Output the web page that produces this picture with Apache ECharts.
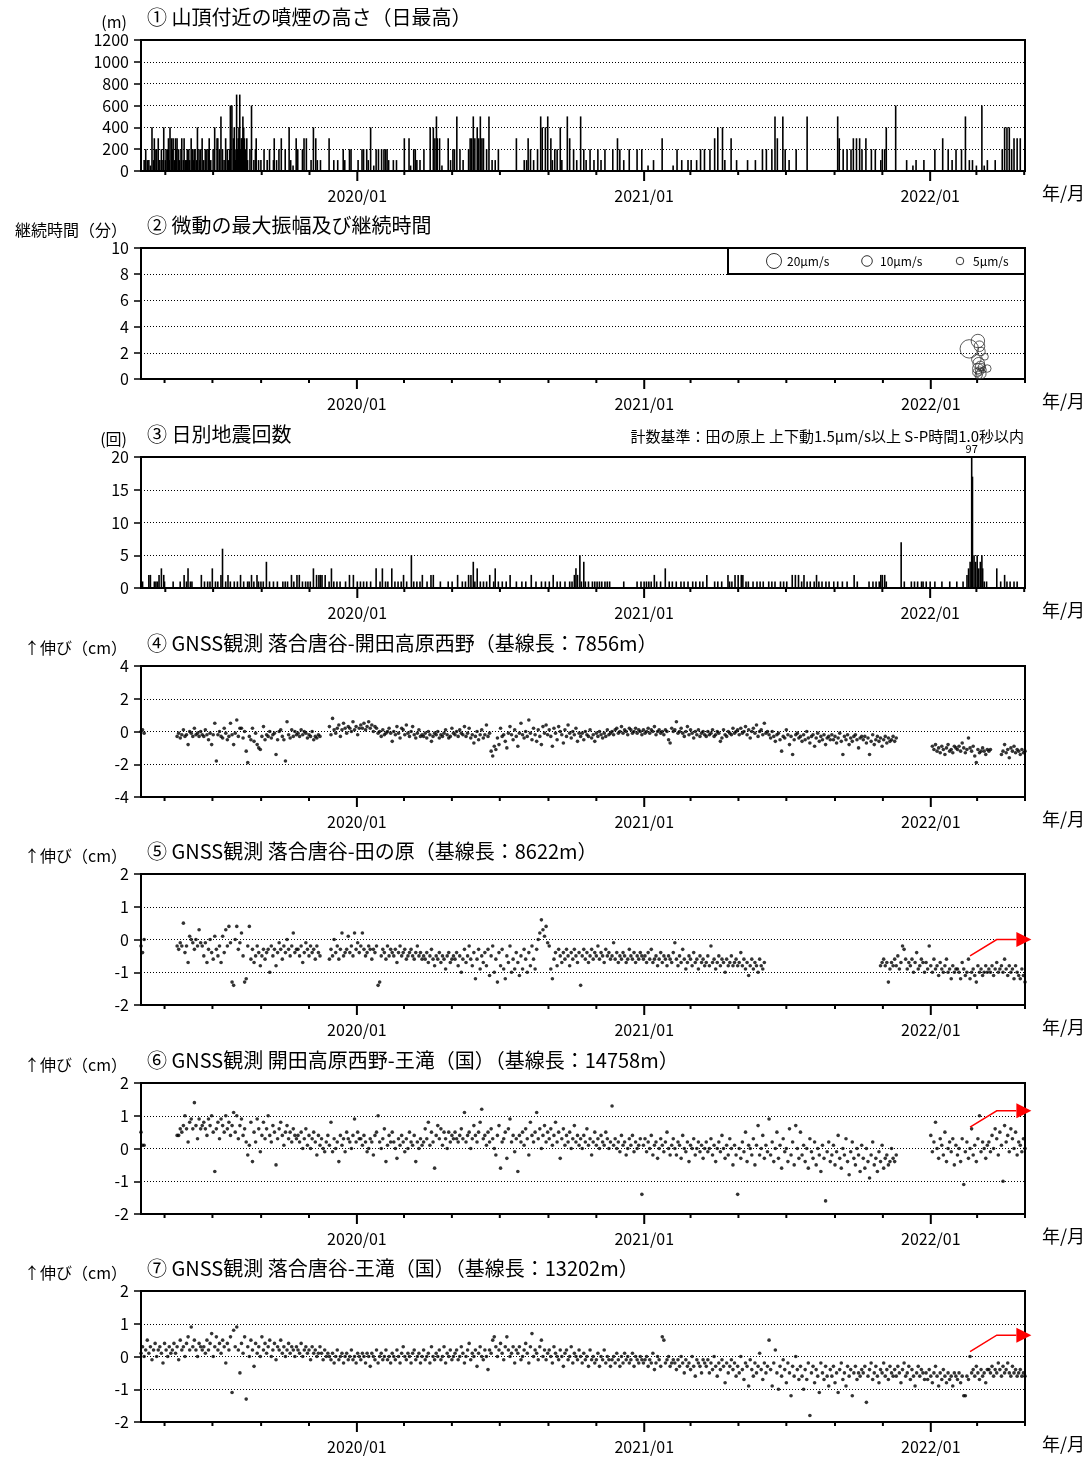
<!DOCTYPE html>
<html>
<head>
<meta charset="utf-8">
<script src="https://cdn.jsdelivr.net/npm/echarts@6/dist/echarts.min.js"></script>
<style>
  html, body { margin: 0; padding: 0; background: #fff; }
  #chart { width: 1089px; height: 1461px; }
</style>
</head>
<body>
<div id="chart"></div>
<script>
// 御嶽山 火山活動経過図（2019/04 〜 2022/04）
const FONT = "'Noto Sans CJK JP', 'Noto Sans', sans-serif";
const DAY = 86400000;
const T0 = Date.UTC(2019, 3, 1);   // 横軸の左端
const T1 = Date.UTC(2022, 4, 1);   // 横軸の右端
const toTime = d => T0 + d * DAY;  // d: 2019/04/01 からの日数

// 横軸の目盛（2か月ごと、1月にラベル）
const tickDates = ['2019-05-01', '2019-07-01', '2019-09-01', '2019-11-01', '2020-01-01', '2020-03-01',
  '2020-05-01', '2020-07-01', '2020-09-01', '2020-11-01', '2021-01-01', '2021-03-01', '2021-05-01',
  '2021-07-01', '2021-09-01', '2021-11-01', '2022-01-01', '2022-03-01', '2022-05-01'];

// ① 噴煙の高さ（日最高） [日数, m]
const plume = [
  [3, 100], [5, 200], [7, 100], [9, 100], [11, 50], [13, 400], [15, 100], [16, 300], [18, 200], [19, 200],
  [21, 300], [23, 100], [25, 200], [27, 100], [28, 400], [30, 100], [31, 200], [33, 200], [34, 300], [35, 100],
  [36, 400], [38, 300], [39, 200], [40, 300], [42, 100], [43, 300], [44, 200], [45, 300], [47, 200], [48, 100],
  [50, 200], [51, 300], [53, 100], [54, 300], [56, 100], [57, 100], [58, 200], [60, 200], [61, 100], [63, 300],
  [65, 200], [66, 100], [67, 200], [68, 200], [70, 100], [71, 400], [73, 200], [74, 100], [75, 200], [77, 300],
  [79, 100], [81, 200], [83, 200], [85, 200], [86, 300], [88, 100], [91, 200], [93, 400], [96, 300], [97, 300],
  [99, 200], [101, 500], [103, 200], [105, 100], [107, 300], [109, 200], [111, 100], [112, 200], [113, 600],
  [115, 600], [117, 300], [118, 400], [119, 200], [120, 100], [121, 700], [122, 200], [123, 300], [124, 400],
  [125, 700], [126, 200], [127, 300], [128, 300], [129, 500], [130, 400], [131, 300], [132, 200], [134, 300],
  [135, 100], [138, 200], [140, 600], [143, 100], [145, 200], [146, 300], [149, 100], [152, 100], [156, 200],
  [160, 100], [163, 200], [168, 100], [169, 300], [172, 100], [175, 200], [178, 300], [183, 200], [188, 400],
  [190, 100], [193, 50], [197, 300], [199, 200], [205, 200], [207, 300], [210, 300], [216, 100], [219, 400],
  [222, 300], [224, 100], [228, 100], [239, 300], [245, 100], [250, 100], [257, 200], [259, 100], [265, 200],
  [267, 200], [276, 100], [281, 200], [283, 200], [287, 200], [289, 100], [292, 400], [296, 50], [299, 200],
  [302, 200], [306, 200], [309, 200], [311, 200], [313, 200], [315, 100], [321, 100], [325, 100], [335, 300],
  [341, 300], [343, 50], [347, 200], [349, 200], [351, 100], [355, 100], [360, 200], [368, 400], [372, 400],
  [374, 300], [376, 500], [377, 300], [380, 300], [383, 50], [391, 300], [394, 100], [397, 200], [399, 200],
  [402, 500], [406, 200], [410, 100], [417, 200], [419, 300], [421, 300], [423, 500], [425, 300], [428, 400],
  [430, 300], [432, 500], [434, 300], [436, 300], [440, 200], [443, 500], [447, 100], [451, 100], [455, 200],
  [478, 300], [488, 100], [491, 100], [493, 300], [496, 200], [500, 100], [505, 200], [509, 500], [511, 400],
  [515, 400], [518, 500], [522, 300], [524, 100], [527, 200], [530, 200], [534, 400], [536, 100], [543, 500],
  [546, 300], [551, 200], [555, 100], [560, 500], [564, 200], [567, 100], [572, 200], [577, 100], [582, 200],
  [586, 100], [591, 200], [601, 200], [607, 300], [610, 200], [615, 100], [622, 200], [632, 200], [638, 200],
  [646, 50], [653, 100], [664, 300], [678, 50], [683, 200], [689, 100], [697, 100], [701, 100], [708, 100],
  [713, 200], [718, 200], [725, 200], [731, 300], [735, 400], [741, 400], [744, 100], [752, 300], [759, 100],
  [773, 100], [783, 100], [792, 200], [797, 200], [804, 200], [808, 500], [811, 300], [818, 500], [821, 200],
  [826, 100], [835, 200], [849, 500], [888, 500], [890, 300], [895, 200], [900, 200], [905, 200], [908, 300],
  [912, 300], [916, 300], [919, 200], [924, 300], [931, 200], [936, 200], [943, 100], [945, 200], [948, 200],
  [950, 400], [962, 600], [976, 100], [984, 50], [988, 100], [998, 100], [1012, 200], [1022, 300], [1029, 200],
  [1034, 100], [1039, 200], [1046, 200], [1051, 500], [1056, 100], [1060, 100], [1065, 50], [1072, 600],
  [1075, 50], [1079, 100], [1089, 100], [1098, 200], [1101, 400], [1104, 400], [1107, 400], [1110, 200],
  [1113, 300], [1117, 300], [1121, 300]
];

// ② 微動 [日数, 継続時間(分), 最大振幅(μm/s)]
const tremor = [
  [1055, 2.3, 30], [1066, 2.9, 16], [1068, 2.5, 10], [1070, 2.1, 6], [1075, 1.7, 4], [1064, 1.5, 8],
  [1067, 1.2, 12], [1069, 1.0, 8], [1066, 0.8, 10], [1068, 0.6, 6], [1071, 0.9, 5], [1065, 0.5, 7],
  [1070, 0.4, 9], [1073, 0.7, 3], [1067, 0.3, 5], [1078, 0.8, 5]
];
const legendAmps = [20, 10, 5];
const ampScale = 1.68; // 半径 = ampScale * sqrt(振幅)

// ③ 日別地震回数 [日数, 回]
const quakes = [
  [1, 1], [9, 2], [11, 2], [16, 1], [18, 1], [20, 1], [22, 2], [25, 3], [28, 2], [29, 1], [40, 1], [49, 1],
  [54, 2], [57, 1], [59, 3], [62, 1], [64, 1], [76, 2], [80, 1], [84, 1], [87, 1], [90, 3], [94, 1], [97, 1],
  [101, 2], [103, 6], [107, 1], [110, 2], [113, 1], [118, 1], [122, 1], [126, 2], [130, 1], [135, 1], [137, 1],
  [140, 2], [143, 1], [147, 2], [149, 1], [152, 1], [155, 1], [159, 4], [163, 1], [168, 1], [173, 1], [180, 1],
  [183, 1], [186, 1], [191, 2], [194, 1], [198, 2], [201, 2], [205, 1], [209, 1], [212, 1], [215, 1], [219, 3],
  [223, 2], [226, 2], [228, 2], [230, 2], [234, 2], [239, 1], [242, 3], [245, 1], [249, 1], [253, 1], [260, 1],
  [265, 2], [270, 2], [275, 1], [279, 1], [283, 1], [287, 1], [292, 1], [299, 3], [304, 1], [307, 3], [311, 1],
  [314, 1], [319, 3], [323, 1], [327, 1], [331, 1], [334, 2], [338, 1], [344, 5], [347, 1], [351, 1], [355, 1],
  [358, 2], [364, 1], [369, 2], [372, 2], [381, 1], [391, 1], [396, 1], [403, 2], [409, 1], [413, 1], [417, 2],
  [420, 2], [423, 4], [425, 1], [428, 3], [432, 1], [436, 1], [440, 1], [444, 2], [449, 1], [451, 3], [455, 1],
  [460, 1], [465, 1], [470, 2], [478, 1], [485, 1], [490, 1], [497, 2], [503, 1], [510, 1], [515, 1], [520, 1],
  [525, 2], [530, 1], [534, 1], [540, 1], [546, 1], [549, 1], [552, 2], [554, 3], [556, 2], [559, 5], [561, 1],
  [564, 4], [566, 1], [570, 1], [575, 1], [578, 1], [581, 1], [584, 1], [587, 1], [591, 1], [594, 1], [597, 1],
  [615, 1], [632, 1], [637, 1], [641, 1], [644, 1], [647, 1], [650, 1], [654, 2], [657, 1], [662, 1], [668, 3],
  [673, 1], [677, 1], [682, 1], [688, 1], [692, 1], [697, 1], [703, 1], [707, 1], [712, 1], [716, 1], [721, 2],
  [731, 1], [735, 1], [740, 1], [748, 2], [750, 1], [753, 1], [757, 2], [761, 2], [765, 2], [767, 2], [771, 1],
  [774, 1], [780, 1], [785, 1], [789, 1], [793, 1], [800, 1], [804, 1], [808, 1], [815, 1], [819, 1], [823, 1],
  [830, 2], [834, 2], [838, 2], [842, 1], [845, 2], [849, 1], [853, 1], [858, 1], [861, 2], [864, 1], [868, 1],
  [873, 1], [877, 1], [883, 1], [888, 1], [894, 1], [900, 1], [909, 2], [913, 1], [928, 1], [933, 1], [937, 1],
  [941, 1], [943, 2], [945, 2], [948, 2], [950, 1], [969, 7], [973, 1], [982, 1], [986, 1], [990, 1], [995, 1],
  [997, 1], [1001, 1], [1006, 1], [1012, 1], [1021, 1], [1031, 1], [1040, 1], [1048, 1], [1053, 2], [1055, 3],
  [1057, 4], [1059, 97], [1060, 17], [1062, 5], [1064, 4], [1066, 5], [1068, 3], [1070, 4], [1072, 5], [1073, 3],
  [1075, 1], [1078, 1], [1091, 3], [1096, 1], [1101, 2], [1104, 1], [1108, 1], [1113, 1], [1117, 1]
];

// ④〜⑦ GNSS 基線長変化（cm）: [開始日数, 2日ごとの値]
const gnssStep = 2;
const gnss4 = [
  [0, [0.0, 0.1, -0.1]],
  [46, [-0.3, -0.1, -0.4, -0.2, 0.1, -0.3, -0.2, -0.8, 0.0, -0.1, -0.3, 0.2, -0.2, -0.1, -0.3, 0.0, -0.2,
    -0.3, 0.1, -0.2, -0.5, -0.1, -0.8, -0.2, 0.5, -1.8, -0.2, 0.0, -0.3, -0.4, 0.2, -0.1, -0.5, -0.3, 0.5, -0.2, -0.8,
    -0.1, 0.7, -0.3, 0.2, 0.2, -0.4, 0.0, -1.2, -1.9, -0.3, -0.5, 0.2, -0.6, -0.1, -0.8, -1.0, -1.1, -0.3, 0.3, -0.5,
    -0.2, -0.3, 0.0, -0.4, -0.2, -0.1, -1.4, -0.5, 0.0, 0.1, -0.3, -0.5, -1.8, 0.6, -0.2, -0.4, 0.1, -0.3, 0.0, -0.2,
    -0.1, -0.3, 0.1, -0.2, 0.0, -0.1, -0.4, -0.2, -0.3, 0.0, -0.5, -0.3, -0.4, -0.2, -0.3]],
  [240, [0.3, -0.2, 0.8, 0.1, -0.1, 0.2, 0.4, -0.3, 0.1, 0.5, 0.2, -0.1, 0.3, 0.2, 0.0, 0.6, 0.1, 0.3, -0.2, 0.2,
    0.4, 0.2, 0.5, 0.1, 0.3, 0.6, 0.2, 0.4, 0.0, 0.3, 0.2, -0.1, 0.0, -0.3, 0.1, -0.2, -0.1, 0.0, 0.2, -0.1,
    -0.6, 0.0, -0.2, 0.3, -0.1, -0.4, 0.2, 0.1, -0.2, 0.4, -0.1, -0.3, 0.0, 0.3, -0.2, -0.4, -0.1, 0.1, -0.3, -0.2,
    -0.3, -0.1, -0.4, 0.0, -0.2, -0.6, -0.3, -0.1, -0.2, 0.0, -0.4, -0.2, -0.3, -0.1, 0.1, -0.2, -0.4, -0.3, 0.2, -0.1,
    -0.2, 0.0, -0.3, 0.1, -0.1, -0.2, 0.3, -0.3, -0.1, 0.2, -0.4, -0.2, -0.7, -0.3, 0.0, -0.5, -0.2, 0.1, -0.4, -0.2,
    0.4, -0.3, -0.1, -1.2, -1.5, -0.9, -1.1, -0.4, -0.8, 0.2, -0.3, -0.2, -0.6, -1.0, -0.1, 0.3, -0.2, -0.5, 0.1, -0.3,
    -0.9, -0.1, 0.5, -0.2, -0.4, 0.0, -0.3, 0.7, -0.1, -0.5, 0.2, -0.2, -0.6, 0.1, -0.3, -0.8, 0.3, -0.1, 0.4, -0.2,
    0.1, -0.3, -0.9, 0.2, -0.1, -0.5, 0.3, 0.0, -0.2, -0.7, 0.1, -0.3, 0.4, -0.1, -0.4, 0.0, -0.2, 0.2, -0.6, -0.1,
    -0.3, -0.1, -0.5, 0.0, -0.2, -0.3, 0.1, -0.4, -0.2, -0.6, -0.1, -0.3, 0.0, -0.2, -0.4, -0.1, -0.3, 0.1, -0.2, -0.1,
    0.0, -0.2, 0.1, 0.2, -0.1, 0.0, 0.3, -0.1, 0.1, 0.0, -0.2, 0.2, 0.1, -0.1, 0.0, 0.2, -0.1, 0.1, 0.0, -0.2,
    0.1, -0.1, 0.0, 0.2, -0.1, 0.1, 0.0, 0.3, -0.2, 0.0, 0.1, -0.1, 0.0, -0.2, 0.1, 0.0, -0.5, -0.7, 0.2, 0.0,
    0.1, 0.6, -0.1, 0.0, 0.2, -0.1, -0.3, 0.0, 0.3, -0.2, 0.1, -0.1, -0.4, 0.0, -0.2, 0.1, -0.3, -0.1, 0.0, -0.2,
    -0.3, 0.0, -0.2, -0.1, 0.1, -0.3, -0.2, 0.0, -0.1, -0.6, -0.4, 0.1, -0.2, -0.3, 0.0, -0.1, -0.2, 0.2, -0.1, 0.0,
    0.1, -0.2, 0.2, -0.1, 0.0, 0.3, -0.2, 0.1, -0.4, 0.0, 0.2, -0.1, 0.4, -0.3, 0.0, 0.1, -0.2, 0.5, -0.1, 0.0,
    -0.2, -0.4, 0.0, -0.3, -0.6, -0.2, -0.1, -0.5, -1.2, -0.3, -0.4, 0.1, -0.2, -0.8, -0.3, -1.4, -0.5, -0.2, -0.1, -0.4,
    -0.3, -0.6, -0.2, -0.5, 0.0, -0.4, -0.7, -0.3, -0.2, -0.9, -0.4, -0.1, -0.6, -0.3, -0.5, -0.2, -0.8, -0.4, -0.3, -0.5,
    -0.2, -0.5, -0.3, -0.7, -0.4, -0.1, -0.6, -1.4, -0.3, -0.5, -0.2, -0.8, -0.4, -0.6, -0.3, -0.2, -0.5, -1.0, -0.4, -0.3,
    -0.5, -0.3, -0.7, -0.4, -1.4, -0.6, -0.2, -0.8, -0.5, -0.3, -0.6, -0.4, -0.9, -0.5, -0.3, -0.7, -0.4, -0.6, -0.5, -0.3,
    -0.6, -0.4]],
  [1008, [-0.9, -1.1, -0.8, -1.2, -1.0, -1.3, -0.9, -1.1, -1.4, -1.0, -0.8, -1.2, -1.1, -1.3, -0.9, -1.0,
    -1.1, -0.9, -1.2, -0.7, -1.0, -1.3, -1.1, -0.4, -1.0, -1.2, -0.9, -1.5, -1.9, -1.1, -1.3, -1.2, -1.0, -1.2, -1.4, -1.1,
    -1.2, -1.1]],
  [1096, [-1.4, -1.2, -0.8, -1.3, -1.1, -1.6, -1.0, -1.2, -0.9, -1.3, -1.1, -1.2, -1.4, -1.1, -1.3, -1.2]]
];
const gnss5 = [
  [0, [-0.2, -0.4, 0.0]],
  [46, [-0.2, -0.3, -0.1, -0.2, 0.5, -0.4, -0.2, -0.7, 0.1, 0.0, -0.1, -0.3, 0.0, -0.2, 0.3, -0.1, -0.2,
    -0.5, -0.1, -0.7, -0.3, 0.0, -0.4, -0.6, 0.1, -0.3, -0.5, -0.2, -0.7, 0.1, -0.4, 0.3, -0.2, 0.4, -0.1, -1.3, -1.4,
    0.0, 0.4, -0.3, -0.1, 0.2, -0.5, -1.3, -1.2, -0.2, 0.4, -0.6, -0.3, -0.7, -0.5, -0.2, -0.4, -0.8, -0.5, -0.3, -0.6,
    -0.4, -0.3, -1.0, -0.2, -0.5, -0.3, -0.8, -0.4, -0.1, -0.3, -0.6, -0.2, -0.4, 0.0, -0.3, -0.5, -0.2, 0.2, -0.4, -0.3,
    -0.3, -0.5, -0.2, -0.7, -0.4, -0.1, -0.3, -0.5, -0.2, -0.4, -0.3, -0.6, -0.2, -0.4, -0.5]],
  [240, [-0.6, -0.3, -0.5, 0.0, -0.4, -0.2, -0.6, -0.3, 0.2, -0.5, -0.4, -0.3, 0.1, -0.4, -0.2, -0.5, 0.2, -0.3, -0.1, -0.4,
    -0.2, 0.2, -0.3, -0.5, -0.4, -0.2, -0.3, -0.6, -0.3, -0.4, -0.2, -1.4, -1.3, -0.5, -0.3, -0.4, -0.6, -0.2, -0.5, -0.3,
    -0.4, -0.5, -0.3, -0.7, -0.4, -0.2, -0.5, -0.4, -0.3, -0.6, -0.5, -0.4, -0.3, -0.5, -0.6, -0.4, -0.2, -0.5, -0.4, -0.6,
    -0.5, -0.6, -0.4, -0.7, -0.5, -0.3, -0.6, -0.8, -0.5, -0.6, -0.4, -0.7, -0.5, -0.6, -0.9, -0.5, -0.4, -0.7, -0.6, -0.5,
    -0.6, -0.4, -0.8, -0.5, -1.0, -0.6, -0.3, -0.7, -0.5, -0.2, -0.6, -0.8, -0.4, -1.2, -0.6, -0.3, -0.9, -0.5, -0.7, -0.4,
    -0.8, -0.3, -1.1, -0.5, -0.2, -1.0, -0.6, -1.3, -0.4, -0.8, -0.3, -0.9, -1.2, -0.5, -0.7, -0.2, -1.0, -0.6, -0.9, -0.4,
    -0.7, -1.1, -0.5, -0.9, -0.3, -0.6, -1.0, -0.4, -0.8, -0.2, -0.6, -0.9, -0.3, 0.0, 0.2, 0.6, 0.3, 0.1, 0.4, -0.1,
    -0.2, -0.9, -1.2, -0.6, -0.4, -0.8, -0.3, -0.5, -0.7, -0.4, -0.6, -0.3, -0.5, -0.8, -0.4, -0.6, -0.3, -0.5, -0.7, -0.4,
    -1.4, -0.5, -0.3, -0.6, -0.4, -0.7, -0.5, -0.3, -0.6, -0.4, -0.5, -0.2, -0.6, -0.4, -0.5, -0.7, -0.3, -0.5, -0.4, -0.6,
    -0.5, -0.1, -0.6, -0.4, -0.7, -0.5, -0.6, -0.4, -0.5, -0.7, -0.6, -0.3, -0.5, -0.6, -0.4, -0.7, -0.5, -0.6, -0.4, -0.5,
    -0.6, -0.5, -0.7, -0.4, -0.6, -0.3, -0.7, -0.6, -0.5, -0.8, -0.6, -0.4, -0.7, -0.5, -0.6, -0.8, -0.5, -0.6, -0.7, -0.4,
    -0.1, -0.6, -0.8, -0.5, -0.7, -0.3, -0.6, -0.9, -0.7, -0.5, -0.6, -0.8, -0.4, -0.7, -0.6, -0.9, -0.5, -0.7, -0.6, -0.8,
    -0.7, -0.5, -0.8, -0.2, -0.7, -0.6, -0.9, -0.7, -0.5, -0.8, -0.6, -0.7, -1.0, -0.6, -0.8, -0.7, -0.5, -0.8, -0.7, -0.6,
    -0.8, -0.7, -0.4, -0.8, -0.6, -0.9, -0.7, -1.1, -0.8, -0.6, -0.9, -0.7, -0.8, -1.0, -0.6, -0.8, -0.9, -0.7]],
  [942, [-0.8, -0.7, -0.6, -0.8, -0.7, -1.3, -0.9, -0.7, -0.8,
    -0.6, -0.8, -0.5, -0.9, -0.7, -0.2, -0.3, -0.6, -0.9, -0.7, -0.8, -0.6, -1.0, -0.7, -0.4, -0.9, -0.8, -0.6, -0.7, -1.0,
    -0.7, -0.9, -0.2, -0.8, -1.0, -0.6, -0.9, -0.8, -1.1, -0.7, -0.9, -1.0, -0.8, -0.6, -1.0, -0.9, -1.2, -0.8, -1.0, -0.9,
    -0.9, -1.0, -1.2, -0.7, -0.9, -1.1, -1.0, -0.6, -1.2, -1.0, -0.9, -1.1, -1.3, -0.8, -1.0, -0.9, -1.1, -1.0, -0.8, -1.0,
    -0.9, -1.0, -0.8, -1.1, -0.9, -0.7, -1.0, -0.9, -0.8, -1.0, -0.6, -0.9, -1.1, -0.8, -1.0, -0.9, -1.2, -0.8, -1.0, -1.1,
    -1.2, -0.9, -1.1, -1.3]]
];
const gnss6 = [
  [0, [0.5, 0.1, 0.1]],
  [46, [0.4, 0.4, 0.6, 0.5, 0.7, 1.0, 0.6, 0.2, 0.8, 0.9, 0.6, 1.4, 0.7, 0.3, 0.9, 0.6, 0.7,
    0.8, 0.6, 0.4, 0.9, 0.7, 1.0, 0.5, -0.7, 0.6, 0.8, 0.3, 0.9, 0.7, 0.5, 1.0, 0.6, 0.8, 0.4, 0.7, 1.1,
    0.5, 1.0, 0.3, 0.7, 0.9, 0.4, 0.6, 0.2, -0.2, 0.1, 0.8, -0.4, 0.5, 0.2, 0.9, 0.6, -0.1, 0.4, 0.8, 0.3,
    0.6, 1.0, 0.4, 0.2, 0.7, 0.5, -0.5, 0.3, 0.6, 0.8, 0.4, 0.1, 0.5, 0.7, 0.3, 0.5, 0.2, 0.6, 0.4, 0.3,
    0.4, 0.2, 0.5, 0.0, 0.3, 0.6, 0.1, 0.4, 0.0, 0.3, 0.5, 0.2, -0.2, 0.4, 0.1, 0.3, 0.0, -0.1, 0.2, 0.4,
    0.1, 0.8, -0.1, 0.3, 0.0, 0.2, -0.4, 0.4, 0.1, 0.3, -0.1, 0.5, 0.3, 0.2, 0.0, 0.4, 0.9, 0.2, 0.5, 0.3,
    0.3, 0.1, 0.4, 0.2, -0.1, 0.0, 0.3, 0.2, -0.2, 0.4, 0.5, 1.0, 0.2, 0.0, 0.3, 0.6, -0.4, 0.1, 0.4, 0.2,
    0.5, 0.2, 0.0, -0.3, 0.3, 0.1, 0.4, 0.2, -0.1, 0.3, 0.0, 0.5, 0.2, 0.1, 0.4, -0.4, 0.2, 0.0, 0.3, 0.1,
    0.2, 0.6, 0.3, 0.8, 0.1, 0.5, 0.2, -0.6, 0.4, 0.7, 0.3, 0.6, 0.1, 0.5, 0.3, 0.0, 0.5, 0.2, 0.4, 0.3,
    0.5, 0.3, 0.2, 0.4, 0.6, 0.3, 1.1, 0.2, 0.4, 0.5, 0.0, 0.3, 0.7, 0.4, 0.2, 0.5, 0.8, 1.2, 0.3, 0.4,
    0.1, 0.5, 0.2, 0.6, 0.3, 0.0, -0.2, 0.4, 0.7, -0.6, 0.2, 0.3, 0.5, -0.3, 0.6, 0.9, 0.2, 0.4, -0.1, 0.3,
    -0.7, 0.4, 0.2, 0.5, 0.1, 0.6, 0.3, -0.2, 0.8, 0.4, 0.2, 0.5, 1.1, 0.3, 0.6, 0.0, 0.4, 0.7, 0.2, 0.5,
    0.3, 0.6, 0.1, 0.4, 0.8, 0.2, 0.5, -0.3, 0.3, 0.6, 0.1, 0.4, 0.2, 0.5, 0.0, 0.3, 0.7, 0.2, 0.4, 0.1,
    0.3, 0.0, 0.4, 0.2, 0.6, 0.1, 0.3, -0.2, 0.2, 0.5, 0.1, 0.3, 0.0, 0.4, 0.2, 0.1, 0.5, 0.3, 0.0, 0.2,
    1.3, 0.1, 0.3, 0.0, 0.2, -0.1, 0.4, 0.1, 0.2, -0.2, 0.0, 0.3, 0.1, 0.4, -0.1, 0.2, 0.0, 0.1, 0.3, -1.4,
    0.1, 0.3, -0.1, 0.2, 0.0, 0.4, -0.2, 0.1, 0.2, -0.3, 0.0, 0.3, 0.1, -0.1, 0.2, 0.5, 0.0, -0.2, 0.1, 0.3,
    0.0, -0.2, 0.2, 0.1, -0.3, 0.4, 0.0, -0.1, 0.2, -0.4, 0.1, 0.0, 0.3, -0.2, 0.0, 0.2, -0.1, 0.1, -0.3, 0.0,
    0.2, -0.1, 0.0, 0.3, -0.2, 0.1, -0.4, 0.0, 0.2, -0.1, 0.4, 0.0, -0.3, 0.1, -0.2, 0.3, 0.0, -0.5, 0.1, -0.2,
    -1.4, 0.0, -0.3, 0.2, -0.1, 0.5, -0.4, 0.1, 0.0, -0.2, 0.3, -0.5, 0.1, 0.7, -0.2, 0.0, 0.4, -0.3, 0.1, -0.1,
    0.9, -0.2, 0.2, -0.4, 0.0, 0.5, -0.3, 0.1, -0.6, 0.3, -0.1, 0.0, -0.4, 0.6, -0.2, 0.2, -0.5, 0.7, 0.0, -0.3,
    0.5, -0.2, 0.1, -0.4, 0.0, -0.6, 0.3, -0.1, -0.3, 0.2, -0.5, 0.0, -0.2, -0.7, 0.1, -0.3, -1.6, -0.1, 0.2, -0.4,
    -0.2, 0.1, -0.5, -0.1, 0.4, -0.3, -0.6, 0.0, -0.2, 0.3, -0.4, -0.8, -0.1, 0.2, -0.3, -0.5, 0.0, -0.2, -0.7, 0.1,
    -0.3, -0.6, 0.0, -0.4, -0.9, -0.2, 0.2, -0.5, -0.3, -0.7, -0.1, -0.4, 0.1, -0.6, -0.3, -0.2, -0.5, -0.4, 0.0, -0.3,
    -0.4, -0.2]],
  [1006, [0.4, -0.1, 0.2, 0.8, 0.0, -0.3, 0.3, 0.1, -0.2, 0.5, -0.4, 0.0, 0.2, -0.1, 0.3, -0.5, 0.1,
    -0.2, 0.0, -0.4, 0.3, -1.1, -0.1, 0.2, -0.3, 0.0, 0.6, -0.2, 0.1, -0.4, 0.3, 1.0, -0.1, 0.2, 0.0, -0.3, 0.1,
    0.2, -0.1, 0.4, 0.0, 0.6, 0.3, -0.2, 0.5, 0.1, -1.0, 0.7, 0.2, 0.4, -0.1, 0.6, 0.3, 0.0, 0.5, -0.2, 0.2,
    0.1, -0.1, 0.3, 0.0]]
];
const gnss7 = [
  [0, [0.1, 0.3, 0.0, 0.2, 0.5, 0.1, 0.3, -0.1, 0.2, 0.4, 0.0, 0.2, 0.3, 0.1, -0.2, 0.4, 0.2, 0.0, 0.3, 0.1,
    0.2, 0.4, 0.1, 0.3, -0.1, 0.5, 0.2, 0.3, 0.0, 0.4, 0.6, 0.2, 0.9, 0.3, 0.5, 0.2, 0.0, 0.4, 0.3, 0.2,
    0.3, 0.1, 0.5, 0.2, 0.4, 0.7, 0.0, 0.3, 0.6, 0.2, 0.4, 0.1, 0.5, 0.3, -0.2, 0.4, 0.2, 0.6, -1.1, 0.8,
    0.3, 0.9, 0.2, -0.5, 0.4, 0.1, 0.6, -1.3, 0.3, 0.0, 0.5, 0.2, -0.3, 0.4, 0.1, 0.3, 0.0, 0.6, 0.2, 0.4,
    0.1, 0.3, 0.5, 0.0, 0.2, 0.4, -0.1, 0.3, 0.2, 0.5, 0.1, 0.3, 0.0, 0.2, 0.4, 0.1, 0.3, 0.2, 0.0, 0.3,
    0.2, 0.1, 0.4, 0.0, 0.2, 0.3, 0.1, 0.2, -0.1, 0.3, 0.1, 0.2, 0.0, 0.1, 0.3, 0.1, -0.1, 0.2, 0.0, 0.1,
    0.0, -0.1, 0.1, -0.2, 0.0, 0.2, -0.1, 0.0, 0.1, -0.2, 0.0, 0.1, -0.1, 0.0, 0.2, -0.1, 0.0, -0.2, 0.1, 0.0,
    -0.1, 0.1, 0.0, -0.2, 0.1, 0.0, -0.3, 0.1, 0.0, -0.1, 0.2, -0.2, 0.0, 0.1, -0.1, 0.0, 0.2, -0.1, 0.0, -0.2,
    0.1, 0.0, -0.1, 0.2, 0.0, -0.2, 0.1, 0.3, 0.0, -0.1, 0.1, 0.0, -0.2, 0.1, 0.2, -0.1, 0.0, 0.1, -0.2, 0.0,
    0.2, -0.1, 0.0, 0.1, -0.2, 0.3, 0.0, -0.1, 0.1, 0.0, 0.2, -0.1, 0.0, 0.3, -0.2, 0.1, 0.0, 0.2, -0.1, 0.0,
    0.1, 0.2, -0.1, 0.0, 0.3, 0.1, -0.2, 0.0, 0.2, 0.4, -0.1, 0.1, 0.0, 0.2, -0.3, 0.1, 0.3, 0.0, -0.1, 0.2,
    0.0, -0.4, 0.2, 0.1, 0.5, 0.6, 0.3, 0.0, 0.2, 0.4, 0.1, -0.1, 0.3, 0.6, 0.2, 0.0, 0.1, 0.3, -0.2, 0.2,
    0.1, 0.3, -0.1, 0.0, 0.2, 0.4, 0.1, -0.2, 0.3, 0.7, 0.0, 0.2, 0.1, -0.1, 0.3, 0.5, 0.0, 0.2, -0.1, 0.1,
    0.2, 0.0, -0.2, 0.3, 0.1, 0.0, -0.1, 0.2, 0.0, -0.3, 0.1, 0.2, -0.1, 0.0, 0.3, -0.2, 0.1, 0.0, -0.1, 0.2,
    0.0, -0.2, 0.1, -0.1, 0.0, -0.3, 0.2, -0.1, 0.0, -0.2, -0.1, 0.1, -0.3, 0.0, -0.1, 0.2, -0.2, 0.0, -0.1, -0.3,
    -0.1, 0.0, -0.2, 0.1, -0.1, -0.3, 0.0, -0.2, 0.1, -0.1, 0.0, -0.2, -0.1, 0.1, -0.3, 0.0, -0.1, -0.2, 0.0, -0.1,
    -0.2, -0.1, 0.0, -0.3, -0.1, -0.2, 0.1, -0.4, -0.2, 0.0, -0.1, -0.3, 0.6, 0.5, -0.2, -0.1, 0.0, -0.3, -0.2, -0.1,
    -0.2, -0.4, -0.1, -0.3, 0.0, -0.2, -0.5, -0.1, -0.3, -0.2, -0.4, 0.0, -0.3, -0.6, -0.1, -0.2, -0.3, -0.5, -0.1, -0.2,
    -0.3, -0.1, -0.5, -0.2, -0.4, 0.0, -0.3, -0.6, -0.2, -0.4, -0.1, -0.3, -0.8, -0.2, -0.5, -0.3, -0.1, -0.4, -0.2, -0.6,
    -0.3, -0.5, 0.0, -0.4, -0.7, -0.2, -0.3, -0.9, -0.1, -0.4, -0.6, -0.2, -0.5, -0.3, 0.1, -0.4, -0.7, -0.2, -0.5, -0.3,
    0.5, -0.4, -0.9, -0.2, 0.2, -0.5, -1.0, -0.3, -0.6, -0.1, -0.4, -0.8, -0.2, -0.5, -1.2, -0.3, -0.6, 0.0, -0.4, -0.7,
    -0.3, -0.6, -1.0, -0.4, -0.7, -0.2, -1.8, -0.5, -0.3, -0.8, -0.4, -0.6, -1.1, -0.2, -0.5, -0.7, -0.3, -0.6, -0.9, -0.4,
    -0.6, -0.3, -0.8, -0.5, -1.1, -0.4, -0.2, -0.7, -0.5, -0.9, -0.3, -0.6, -0.4, -1.2, -0.5, -0.3, -0.7, -0.5, -0.6, -0.4,
    -0.5, -0.3, -1.4, -0.6, -0.4, -0.2, -0.7, -0.5, -0.3, -0.6, -0.8, -0.4, -0.5, -0.2, -0.6, -0.4, -0.7, -0.3, -0.5, -0.6,
    -0.4, -0.6, -0.3, -0.5, -0.8, -0.4, -0.2, -0.6, -0.5, -0.3, -0.7, -0.4, -0.6, -0.9, -0.5, -0.3, -0.6, -0.4, -0.5, -0.7,
    -0.5, -0.7, -0.4, -0.6, -0.8, -0.5, -0.3, -0.6, -0.9, -0.5, -0.7, -0.4, -0.6, -0.8, -0.5, -0.7, -0.6, -0.9, -0.5, -0.6,
    -0.7, -0.5, -0.8, -0.6, -1.2, -1.2, -0.6, -0.7, 0.0, -0.5, -0.4, -0.6, -0.3, -0.5, -0.7, -0.4, -0.6, -0.5, -0.8, -0.4,
    -0.4, -0.5, -0.3, -0.6, -0.4, -0.5, -0.2, -0.4, -0.6, -0.3, -0.5, -0.4, -0.2, -0.5, -0.6, -0.3, -0.5, -0.4, -0.6, -0.5,
    -0.4, -0.6, -0.5, -0.6]]
];

// 赤矢印（変化の注記）
const arrowNotes = [
  { panel: 4, from: ['2022-02-20', -0.5], bend: ['2022-03-26', 0.0] },
  { panel: 5, from: ['2022-02-20', 0.65], bend: ['2022-03-26', 1.15] },
  { panel: 6, from: ['2022-02-20', 0.15], bend: ['2022-03-26', 0.65] }
];
const arrowShaftEnd = '2022-04-20';

// パネル
const titles = [
  '① 山頂付近の噴煙の高さ（日最高）',
  '② 微動の最大振幅及び継続時間',
  '③ 日別地震回数',
  '④ GNSS観測 落合唐谷-開田高原西野（基線長：7856m）',
  '⑤ GNSS観測 落合唐谷-田の原（基線長：8622m）',
  '⑥ GNSS観測 開田高原西野-王滝（国）（基線長：14758m）',
  '⑦ GNSS観測 落合唐谷-王滝（国）（基線長：13202m）'
];
const units = ['(m)', '継続時間（分）', '(回)', '↑伸び（cm）', '↑伸び（cm）', '↑伸び（cm）', '↑伸び（cm）'];
const yRanges = [[0, 1200, 200], [0, 10, 2], [0, 20, 5], [-4, 4, 2], [-2, 2, 1], [-2, 2, 1], [-2, 2, 1]];
const quakeNote = '計数基準：田の原上 上下動1.5μm/s以上 S-P時間1.0秒以内';

const panelTops = [40, 248, 457, 666, 874, 1083, 1291];
const plotLeft = 141;
const plotWidth = 884;
const plotHeight = 131;

function gnssPoints(segs) {
  const pts = [];
  segs.forEach(([d0, vals]) => {
    vals.forEach((v, k) => pts.push([toTime(d0 + k * gnssStep), v]));
  });
  return pts;
}

const tickLabelOf = {};
tickDates.forEach(d => {
  if (d.slice(5, 7) === '01') tickLabelOf[Date.parse(d)] = d.slice(0, 7).replace('-', '/');
});

function renderTick(params, api) {
  const t = api.value(0);
  const x = api.coord([t, api.value(1)])[0];
  const cs = params.coordSys;
  const y = cs.y + cs.height;
  const label = tickLabelOf[t];
  const children = [{
    type: 'line',
    shape: { x1: x, y1: y, x2: x, y2: y + (label ? 10 : 4) },
    style: { stroke: '#000', lineWidth: 2 }
  }];
  if (label) {
    children.push({
      type: 'text', x: x, y: y + 25,
      style: { text: label, fill: '#000', font: '16px ' + FONT, align: 'center', verticalAlign: 'middle' }
    });
  }
  return { type: 'group', children };
}

const grids = [], xAxes = [], yAxes = [], series = [];
panelTops.forEach((top, i) => {
  const [ymin, ymax, step] = yRanges[i];
  grids.push({
    left: plotLeft, top: top, width: plotWidth, height: plotHeight,
    show: true, borderColor: '#000', borderWidth: 2, backgroundColor: 'transparent',
    outerBoundsMode: 'none'
  });
  xAxes.push({
    type: 'time', gridIndex: i, min: T0, max: T1,
    axisLine: { show: true, onZero: false, lineStyle: { color: '#000', width: 2 } },
    axisTick: { show: false }, axisLabel: { show: false }, splitLine: { show: false }
  });
  yAxes.push({
    type: 'value', gridIndex: i, min: ymin, max: ymax, interval: step,
    axisLine: { show: true, lineStyle: { color: '#000', width: 2 } },
    axisTick: { show: true, length: 7, lineStyle: { color: '#000', width: 1.5 } },
    axisLabel: {
      color: '#000', fontSize: 16, fontFamily: FONT, margin: 12, showMinLabel: true, showMaxLabel: true,
      formatter: v => String(v)
    },
    splitLine: { show: true, lineStyle: { color: '#000', width: 1, type: [1, 2] } }
  });
  series.push({
    type: 'custom', xAxisIndex: i, yAxisIndex: i, silent: true, clip: false, z: 10,
    renderItem: renderTick,
    data: tickDates.map(d => [Date.parse(d), ymin])
  });
});

series.push({
  name: '噴煙', type: 'bar', xAxisIndex: 0, yAxisIndex: 0, barWidth: 1.6,
  itemStyle: { color: '#000' }, silent: true,
  data: plume.map(([d, h]) => [toTime(d), h])
});
series.push({
  name: '微動', type: 'scatter', xAxisIndex: 1, yAxisIndex: 1, silent: true,
  symbolSize: v => 2 * ampScale * Math.sqrt(v[2]),
  itemStyle: { color: 'rgba(0,0,0,0)', borderColor: '#333', borderWidth: 1 },
  data: tremor.map(([d, m, a]) => [toTime(d), m, a])
});
series.push({
  name: '地震回数', type: 'bar', xAxisIndex: 2, yAxisIndex: 2, barWidth: 1.6,
  itemStyle: { color: '#000' }, silent: true,
  data: quakes.map(([d, n]) => [toTime(d), n])
});
[gnss4, gnss5, gnss6, gnss7].forEach((segs, k) => {
  series.push({
    type: 'scatter', xAxisIndex: 3 + k, yAxisIndex: 3 + k, silent: true,
    symbolSize: 3.6, itemStyle: { color: '#000' },
    data: gnssPoints(segs)
  });
});

const chart = echarts.init(document.getElementById('chart'));
chart.setOption({
  animation: false,
  backgroundColor: '#fff',
  textStyle: { fontFamily: FONT },
  grid: grids, xAxis: xAxes, yAxis: yAxes, series: series
});

// 文字・凡例・注記
const txt = (text, x, y, size, align) => ({
  type: 'text', x, y, silent: true, z: 20,
  style: { text, fill: '#000', font: size + 'px ' + FONT, align: align || 'left', verticalAlign: 'middle' }
});
const graphic = [];
panelTops.forEach((top, i) => {
  graphic.push(txt(titles[i], 147, top - 23, 20));
  graphic.push(txt(units[i], 127, top - 18, 16, 'right'));
  graphic.push(txt('年/月', 1042, top + plotHeight + 22, 18));
});
graphic.push(txt(quakeNote, plotLeft + plotWidth - 1, panelTops[2] - 21, 15, 'right'));

// ② 振幅凡例
const boxLeft = 728, boxH = 26;
graphic.push({
  type: 'rect', z: 15, silent: true,
  shape: { x: boxLeft, y: panelTops[1], width: plotLeft + plotWidth - boxLeft, height: boxH },
  style: { fill: '#fff', stroke: '#000', lineWidth: 2 }
});
legendAmps.forEach((a, k) => {
  const cx = 774 + k * 93, cy = panelTops[1] + boxH / 2;
  graphic.push({
    type: 'circle', z: 16, silent: true,
    shape: { cx, cy, r: ampScale * Math.sqrt(a) },
    style: { fill: 'none', stroke: '#333', lineWidth: 1 }
  });
  graphic.push(txt(a + 'μm/s', cx + 13, cy, 12));
});

// ③ 上限超えの値
const qMax = yRanges[2][1];
quakes.filter(([, n]) => n > qMax).forEach(([d, n]) => {
  const p = chart.convertToPixel({ xAxisIndex: 2, yAxisIndex: 2 }, [toTime(d), qMax]);
  graphic.push(txt(String(n), p[0], p[1] - 8, 11, 'center'));
});

// 赤矢印
arrowNotes.forEach(n => {
  const f = { xAxisIndex: n.panel, yAxisIndex: n.panel };
  const p0 = chart.convertToPixel(f, [Date.parse(n.from[0]), n.from[1]]);
  const p1 = chart.convertToPixel(f, [Date.parse(n.bend[0]), n.bend[1]]);
  const x2 = chart.convertToPixel(f, [Date.parse(arrowShaftEnd), n.bend[1]])[0];
  graphic.push({
    type: 'polyline', z: 20, silent: true,
    shape: { points: [p0, p1, [x2, p1[1]]] },
    style: { stroke: '#f00', lineWidth: 1.5, fill: 'none' }
  });
  graphic.push({
    type: 'polygon', z: 20, silent: true,
    shape: { points: [[x2, p1[1] - 7.5], [x2 + 15, p1[1]], [x2, p1[1] + 7.5]] },
    style: { fill: '#f00' }
  });
});

chart.setOption({ graphic: graphic });
</script>
</body>
</html>
